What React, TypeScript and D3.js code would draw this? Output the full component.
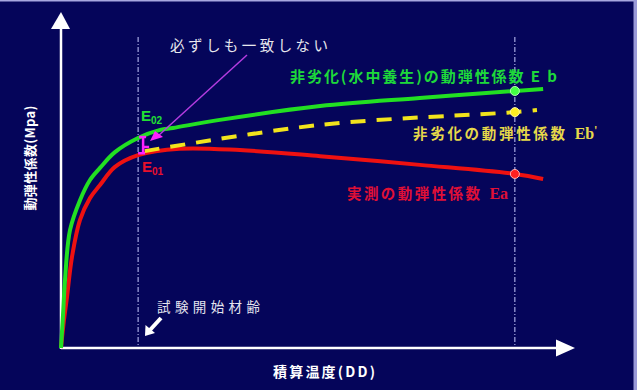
import React, { useEffect, useRef } from "react";
import * as d3 from "d3";

// accumulated temperature (DD, arbitrary units) and modulus (arbitrary units)
const ebAge = [0, 3.9, 7.8, 17.5, 37, 56.4, 75.9, 105, 150, 193, 218, 309, 504, 698, 883, 938];
const ebValues = [0, 9.8, 20.2, 35.1, 44.0, 50.0, 53.6, 58.3, 62.5, 64.9, 65.5, 67.9, 72.0, 74.4, 76.5, 77.1];

const eaAge = [0, 5.8, 11.7, 21.4, 37, 56.4, 75.9, 105, 150, 231, 348, 504, 698, 883, 938];
const eaValues = [0, 8.3, 15.2, 27.1, 38.1, 44.6, 48.5, 53.9, 57.4, 59.3, 58.9, 57.1, 54.5, 51.8, 50.3];

const ebPrimeAge = [163, 504, 883, 926];
const ebPrimeValues = [58.6, 66.4, 70.2, 70.8];

const startAge = 150;
const evalAge = 883;

const JP = "'Noto Sans CJK JP', 'Noto Sans', sans-serif";
const SERIF = "'Liberation Serif', 'DejaVu Serif', serif";

const App = () => {
  const svgRef = useRef<SVGSVGElement>(null);

  useEffect(() => {
    const width = 637;
    const height = 390;
    d3.select(svgRef.current).selectAll("*").remove();
    const svg = d3.select(svgRef.current).attr("width", width).attr("height", height);

    svg.append("rect").attr("width", width).attr("height", height).attr("fill", "#05055a");
    svg.append("rect").attr("x", 0).attr("y", 0).attr("width", width).attr("height", 1.5).attr("fill", "#a8a8e0");
    svg.append("rect").attr("x", 633.5).attr("y", 0).attr("width", 3.5).attr("height", height).attr("fill", "#9a9ad8");

    const x = d3.scaleLinear().domain([0, 1000]).range([61, 575]);
    const y = d3.scaleLinear().domain([0, 100]).range([348, 12]);

    // guide lines
    [startAge, evalAge].forEach((a) => {
      svg.append("line")
        .attr("x1", x(a)).attr("x2", x(a))
        .attr("y1", 37).attr("y2", y(0))
        .attr("stroke", "#c8ccff").attr("stroke-width", 1)
        .attr("stroke-dasharray", "5,2,1,2");
    });

    // axes with arrows
    const x0 = x(0), y0 = y(0);
    svg.append("line").attr("x1", x0).attr("x2", 556).attr("y1", y0).attr("y2", y0)
      .attr("stroke", "#ffffff").attr("stroke-width", 2.5);
    svg.append("path").attr("d", `M556,339.5 L575,${y0} L556,356.5 Z`).attr("fill", "#ffffff");
    svg.append("line").attr("x1", x0).attr("x2", x0).attr("y1", y0 + 1).attr("y2", 28)
      .attr("stroke", "#ffffff").attr("stroke-width", 2.5);
    svg.append("path").attr("d", `M51,29 L${x0},12 L70,29 Z`).attr("fill", "#ffffff");

    const ptsEa = eaAge.map((a, i) => [x(a), y(eaValues[i])] as [number, number]);
    const ptsEb = ebAge.map((a, i) => [x(a), y(ebValues[i])] as [number, number]);
    const ptsEbp = ebPrimeAge.map((a, i) => [x(a), y(ebPrimeValues[i])] as [number, number]);

    const lineGen = d3.line().curve(d3.curveCatmullRom.alpha(0.5));

    svg.append("path").attr("d", lineGen(ptsEa)).attr("fill", "none")
      .attr("stroke", "#ee1111").attr("stroke-width", 4);
    svg.append("path").attr("d", lineGen(ptsEb)).attr("fill", "none")
      .attr("stroke", "#22e022").attr("stroke-width", 4);
    svg.append("path").attr("d", lineGen(ptsEbp)).attr("fill", "none")
      .attr("stroke", "#f2e41c").attr("stroke-width", 4)
      .attr("stroke-dasharray", "15,11");

    // markers at evaluation age
    const interp = (ages: number[], vals: number[], a: number) =>
      d3.scaleLinear().domain(ages).range(vals)(a);
    const markers = [
      { v: interp(ebAge, ebValues, evalAge), fill: "#44ff44", stroke: "#b0ffb0" },
      { v: interp(ebPrimeAge, ebPrimeValues, evalAge), fill: "#ffee22", stroke: "#fff7a0" },
      { v: interp(eaAge, eaValues, evalAge), fill: "#ff2020", stroke: "#ffb0b0" },
    ];
    markers.forEach((m) => {
      svg.append("circle").attr("cx", x(evalAge)).attr("cy", y(m.v)).attr("r", 4.5)
        .attr("fill", m.fill).attr("stroke", m.stroke).attr("stroke-width", 1);
    });

    // magenta bracket between E01 and E02
    const bx = x(startAge) + 5;
    const yTop = y(interp(ebAge, ebValues, startAge)) - 1;
    const yBot = y(interp(eaAge, eaValues, startAge)) - 2;
    const yMid = (yTop + yBot) / 2 + 2;
    svg.append("path")
      .attr("d", `M${bx - 4},${yTop} H${bx + 3} M${bx},${yTop} V${yBot} M${bx - 5},${yBot} H${bx + 2} M${bx},${yMid} H${bx + 6}`)
      .attr("fill", "none").attr("stroke", "#ff22ff").attr("stroke-width", 2.5);

    // annotation arrow
    svg.append("line").attr("x1", 247).attr("y1", 55).attr("x2", 158).attr("y2", 136)
      .attr("stroke", "#b43ce0").attr("stroke-width", 1.5);
    svg.append("path").attr("d", "M150,141 L163,137 L155,131 Z").attr("fill", "#ff22ff");

    svg.append("text").attr("x", 170).attr("y", 51)
      .attr("font-family", JP).attr("font-size", 14.5).attr("fill", "#e8e8ee")
      .attr("textLength", 158).attr("lengthAdjust", "spacing")
      .text("必ずしも一致しない");

    // E02 / E01
    const e02 = svg.append("text").attr("x", 141).attr("y", 121)
      .attr("font-family", "Arial, 'Liberation Sans', sans-serif").attr("font-weight", "bold")
      .attr("font-size", 15).attr("fill", "#22e033");
    e02.append("tspan").text("E");
    e02.append("tspan").attr("font-size", 10).attr("dy", 3).text("02");
    const e01 = svg.append("text").attr("x", 142).attr("y", 172)
      .attr("font-family", "Arial, 'Liberation Sans', sans-serif").attr("font-weight", "bold")
      .attr("font-size", 15).attr("fill", "#e8102c");
    e01.append("tspan").text("E");
    e01.append("tspan").attr("font-size", 10).attr("dy", 3).text("01");

    // series labels
    svg.append("text").attr("x", 290).attr("y", 82)
      .attr("font-family", JP).attr("font-weight", "bold").attr("font-size", 15)
      .attr("fill", "#1ed83a").attr("textLength", 267).attr("lengthAdjust", "spacing")
      .text("非劣化(水中養生)の動弾性係数 E b");

    const yl = svg.append("text").attr("x", 413).attr("y", 139)
      .attr("font-family", JP).attr("font-weight", "bold").attr("font-size", 14.5)
      .attr("fill", "#e6d84a");
    yl.append("tspan").attr("textLength", 152).attr("lengthAdjust", "spacing").text("非劣化の動弾性係数");
    yl.append("tspan").attr("dx", 7).attr("font-family", SERIF).attr("font-size", 16).text("Eb");
    yl.append("tspan").attr("font-size", 9).attr("dy", -6).text("'");

    const rl = svg.append("text").attr("x", 347).attr("y", 199)
      .attr("font-family", JP).attr("font-weight", "bold").attr("font-size", 14.5)
      .attr("fill", "#e01036");
    rl.append("tspan").attr("textLength", 133).attr("lengthAdjust", "spacing").text("実測の動弾性係数");
    rl.append("tspan").attr("dx", 7).attr("font-family", SERIF).attr("font-size", 16).text("Ea");

    // start age annotation
    svg.append("text").attr("x", 157).attr("y", 312)
      .attr("font-family", JP).attr("font-size", 13.5).attr("fill", "#e4e4ee")
      .attr("textLength", 103).attr("lengthAdjust", "spacing")
      .text("試験開始材齢");
    svg.append("line").attr("x1", 161).attr("y1", 318).attr("x2", 150).attr("y2", 330)
      .attr("stroke", "#ffffff").attr("stroke-width", 4);
    svg.append("path").attr("d", "M145,336 L145.5,325 L155,333 Z").attr("fill", "#ffffff");

    // axis titles
    svg.append("text").attr("x", 273).attr("y", 377)
      .attr("font-family", JP).attr("font-weight", "bold").attr("font-size", 14)
      .attr("fill", "#ffffff").attr("textLength", 102).attr("lengthAdjust", "spacing")
      .text("積算温度(DD)");
    svg.append("text")
      .attr("transform", "translate(35,158) rotate(-90)")
      .attr("text-anchor", "middle")
      .attr("font-family", JP).attr("font-weight", "bold").attr("font-size", 13)
      .attr("fill", "#ffffff").attr("textLength", 105).attr("lengthAdjust", "spacing")
      .text("動弾性係数(Mpa)");
  }, []);

  return (
    <svg ref={svgRef} style={{ position: "absolute", left: 0, top: 0, display: "block" }}></svg>
  );
};

export default App;
